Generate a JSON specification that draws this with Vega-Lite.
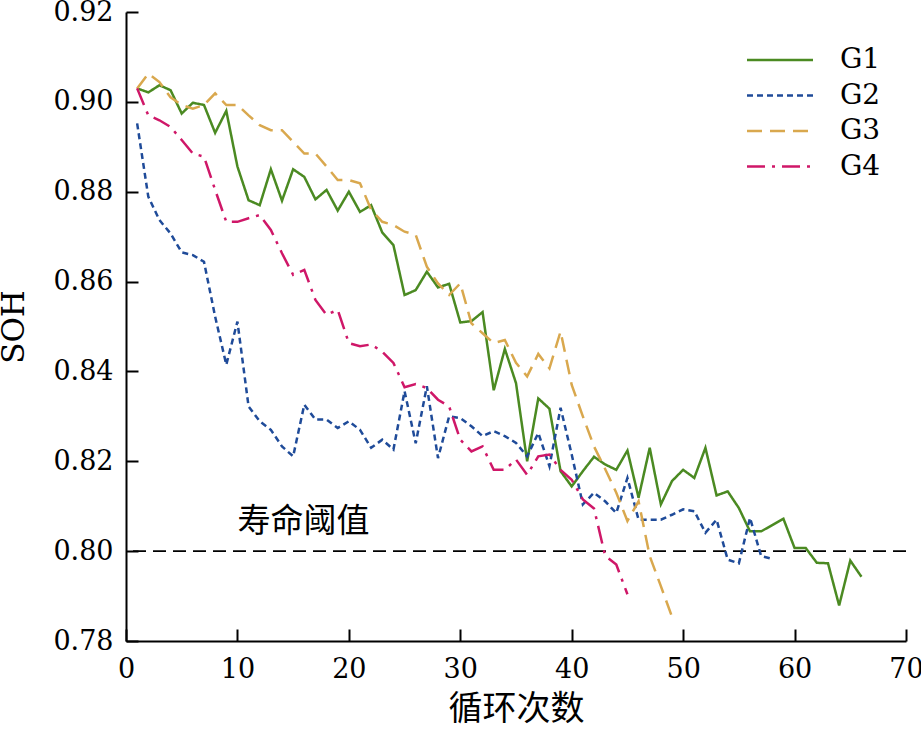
{
  "$schema": "https://vega.github.io/schema/vega-lite/v6.json",
  "width": 780,
  "height": 629,
  "autosize": {"type": "none"},
  "padding": {"left": 126, "top": 12, "right": 15, "bottom": 97},
  "background": "white",
  "config": {
    "view": {"stroke": null},
    "axis": {
      "domainColor": "black",
      "domainWidth": 2,
      "tickColor": "black",
      "tickWidth": 2,
      "tickSize": -12,
      "grid": false,
      "labelFont": "DejaVu Serif",
      "labelFontSize": 27,
      "labelColor": "black",
      "labelOverlap": false,
      "labelBound": false,
      "labelFlush": false,
      "titleColor": "black",
      "titleFontWeight": "normal"
    },
    "axisX": {"labelPadding": 27, "titleFont": "Noto Sans CJK SC", "titleFontSize": 34, "titlePadding": 10},
    "axisY": {"labelPadding": 25, "titleFont": "DejaVu Serif", "titleFontSize": 31, "titlePadding": 22},
    "legend": {
      "orient": "none",
      "legendX": 621,
      "legendY": 30,
      "padding": 0,
      "symbolType": "M-2,0H2",
      "symbolSize": 1089,
      "symbolStrokeWidth": 2.5,
      "symbolOffset": 15,
      "labelOffset": 42,
      "labelFont": "DejaVu Serif",
      "labelFontSize": 28,
      "labelColor": "black",
      "rowPadding": 3.5
    }
  },
  "datasets": {
    "soh": [
      {"group": "G1", "cycle": 1, "soh": 0.903}, {"group": "G1", "cycle": 2, "soh": 0.9021}, {"group": "G1", "cycle": 3, "soh": 0.9037},
      {"group": "G1", "cycle": 4, "soh": 0.9026}, {"group": "G1", "cycle": 5, "soh": 0.8974}, {"group": "G1", "cycle": 6, "soh": 0.8998},
      {"group": "G1", "cycle": 7, "soh": 0.8993}, {"group": "G1", "cycle": 8, "soh": 0.8931}, {"group": "G1", "cycle": 9, "soh": 0.898},
      {"group": "G1", "cycle": 10, "soh": 0.8856}, {"group": "G1", "cycle": 11, "soh": 0.8781}, {"group": "G1", "cycle": 12, "soh": 0.877},
      {"group": "G1", "cycle": 13, "soh": 0.885}, {"group": "G1", "cycle": 14, "soh": 0.878}, {"group": "G1", "cycle": 15, "soh": 0.885},
      {"group": "G1", "cycle": 16, "soh": 0.8833}, {"group": "G1", "cycle": 17, "soh": 0.8783}, {"group": "G1", "cycle": 18, "soh": 0.8804},
      {"group": "G1", "cycle": 19, "soh": 0.8758}, {"group": "G1", "cycle": 20, "soh": 0.88}, {"group": "G1", "cycle": 21, "soh": 0.8755},
      {"group": "G1", "cycle": 22, "soh": 0.877}, {"group": "G1", "cycle": 23, "soh": 0.8709}, {"group": "G1", "cycle": 24, "soh": 0.8681},
      {"group": "G1", "cycle": 25, "soh": 0.857}, {"group": "G1", "cycle": 26, "soh": 0.8581}, {"group": "G1", "cycle": 27, "soh": 0.8622},
      {"group": "G1", "cycle": 28, "soh": 0.8587}, {"group": "G1", "cycle": 29, "soh": 0.8595}, {"group": "G1", "cycle": 30, "soh": 0.8509},
      {"group": "G1", "cycle": 31, "soh": 0.8512}, {"group": "G1", "cycle": 32, "soh": 0.8532}, {"group": "G1", "cycle": 33, "soh": 0.8358},
      {"group": "G1", "cycle": 34, "soh": 0.845}, {"group": "G1", "cycle": 35, "soh": 0.8374}, {"group": "G1", "cycle": 36, "soh": 0.82},
      {"group": "G1", "cycle": 37, "soh": 0.834}, {"group": "G1", "cycle": 38, "soh": 0.8317}, {"group": "G1", "cycle": 39, "soh": 0.8178},
      {"group": "G1", "cycle": 40, "soh": 0.8144}, {"group": "G1", "cycle": 41, "soh": 0.8178}, {"group": "G1", "cycle": 42, "soh": 0.821},
      {"group": "G1", "cycle": 43, "soh": 0.8193}, {"group": "G1", "cycle": 44, "soh": 0.8181}, {"group": "G1", "cycle": 45, "soh": 0.8224},
      {"group": "G1", "cycle": 46, "soh": 0.8119}, {"group": "G1", "cycle": 47, "soh": 0.823}, {"group": "G1", "cycle": 48, "soh": 0.8104},
      {"group": "G1", "cycle": 49, "soh": 0.8156}, {"group": "G1", "cycle": 50, "soh": 0.8181}, {"group": "G1", "cycle": 51, "soh": 0.8163},
      {"group": "G1", "cycle": 52, "soh": 0.823}, {"group": "G1", "cycle": 53, "soh": 0.8124}, {"group": "G1", "cycle": 54, "soh": 0.8133},
      {"group": "G1", "cycle": 55, "soh": 0.8096}, {"group": "G1", "cycle": 56, "soh": 0.8044}, {"group": "G1", "cycle": 57, "soh": 0.8044},
      {"group": "G1", "cycle": 58, "soh": 0.8058}, {"group": "G1", "cycle": 59, "soh": 0.8072}, {"group": "G1", "cycle": 60, "soh": 0.8007},
      {"group": "G1", "cycle": 61, "soh": 0.8007}, {"group": "G1", "cycle": 62, "soh": 0.7974}, {"group": "G1", "cycle": 63, "soh": 0.7973},
      {"group": "G1", "cycle": 64, "soh": 0.7879}, {"group": "G1", "cycle": 65, "soh": 0.7979}, {"group": "G1", "cycle": 66, "soh": 0.7943},

      {"group": "G2", "cycle": 1, "soh": 0.8952}, {"group": "G2", "cycle": 2, "soh": 0.8789}, {"group": "G2", "cycle": 3, "soh": 0.8737},
      {"group": "G2", "cycle": 4, "soh": 0.8707}, {"group": "G2", "cycle": 5, "soh": 0.8665}, {"group": "G2", "cycle": 6, "soh": 0.8659},
      {"group": "G2", "cycle": 7, "soh": 0.8644}, {"group": "G2", "cycle": 8, "soh": 0.8522}, {"group": "G2", "cycle": 9, "soh": 0.8415},
      {"group": "G2", "cycle": 10, "soh": 0.8511}, {"group": "G2", "cycle": 11, "soh": 0.8322}, {"group": "G2", "cycle": 12, "soh": 0.8289},
      {"group": "G2", "cycle": 13, "soh": 0.827}, {"group": "G2", "cycle": 14, "soh": 0.8233}, {"group": "G2", "cycle": 15, "soh": 0.8211},
      {"group": "G2", "cycle": 16, "soh": 0.8326}, {"group": "G2", "cycle": 17, "soh": 0.8293}, {"group": "G2", "cycle": 18, "soh": 0.8293},
      {"group": "G2", "cycle": 19, "soh": 0.8274}, {"group": "G2", "cycle": 20, "soh": 0.8289}, {"group": "G2", "cycle": 21, "soh": 0.827},
      {"group": "G2", "cycle": 22, "soh": 0.823}, {"group": "G2", "cycle": 23, "soh": 0.8248}, {"group": "G2", "cycle": 24, "soh": 0.8226},
      {"group": "G2", "cycle": 25, "soh": 0.8356}, {"group": "G2", "cycle": 26, "soh": 0.824}, {"group": "G2", "cycle": 27, "soh": 0.8367},
      {"group": "G2", "cycle": 28, "soh": 0.8207}, {"group": "G2", "cycle": 29, "soh": 0.83}, {"group": "G2", "cycle": 30, "soh": 0.8296},
      {"group": "G2", "cycle": 31, "soh": 0.8278}, {"group": "G2", "cycle": 32, "soh": 0.8256}, {"group": "G2", "cycle": 33, "soh": 0.8267},
      {"group": "G2", "cycle": 34, "soh": 0.8256}, {"group": "G2", "cycle": 35, "soh": 0.8241}, {"group": "G2", "cycle": 36, "soh": 0.8211},
      {"group": "G2", "cycle": 37, "soh": 0.8263}, {"group": "G2", "cycle": 38, "soh": 0.8189}, {"group": "G2", "cycle": 39, "soh": 0.8319},
      {"group": "G2", "cycle": 40, "soh": 0.8215}, {"group": "G2", "cycle": 41, "soh": 0.8104}, {"group": "G2", "cycle": 42, "soh": 0.813},
      {"group": "G2", "cycle": 43, "soh": 0.8111}, {"group": "G2", "cycle": 44, "soh": 0.8085}, {"group": "G2", "cycle": 45, "soh": 0.8163},
      {"group": "G2", "cycle": 46, "soh": 0.807}, {"group": "G2", "cycle": 47, "soh": 0.807}, {"group": "G2", "cycle": 48, "soh": 0.807},
      {"group": "G2", "cycle": 49, "soh": 0.8081}, {"group": "G2", "cycle": 50, "soh": 0.8093}, {"group": "G2", "cycle": 51, "soh": 0.8089},
      {"group": "G2", "cycle": 52, "soh": 0.8041}, {"group": "G2", "cycle": 53, "soh": 0.807}, {"group": "G2", "cycle": 54, "soh": 0.7981},
      {"group": "G2", "cycle": 55, "soh": 0.7973}, {"group": "G2", "cycle": 56, "soh": 0.8074}, {"group": "G2", "cycle": 57, "soh": 0.7989},
      {"group": "G2", "cycle": 58, "soh": 0.7983},

      {"group": "G3", "cycle": 1, "soh": 0.903}, {"group": "G3", "cycle": 2, "soh": 0.9063}, {"group": "G3", "cycle": 3, "soh": 0.9044},
      {"group": "G3", "cycle": 4, "soh": 0.901}, {"group": "G3", "cycle": 5, "soh": 0.8993}, {"group": "G3", "cycle": 6, "soh": 0.8985},
      {"group": "G3", "cycle": 7, "soh": 0.8993}, {"group": "G3", "cycle": 8, "soh": 0.9019}, {"group": "G3", "cycle": 9, "soh": 0.8993},
      {"group": "G3", "cycle": 10, "soh": 0.8993}, {"group": "G3", "cycle": 11, "soh": 0.897}, {"group": "G3", "cycle": 12, "soh": 0.8948},
      {"group": "G3", "cycle": 13, "soh": 0.8937}, {"group": "G3", "cycle": 14, "soh": 0.8937}, {"group": "G3", "cycle": 15, "soh": 0.8911},
      {"group": "G3", "cycle": 16, "soh": 0.8885}, {"group": "G3", "cycle": 17, "soh": 0.8885}, {"group": "G3", "cycle": 18, "soh": 0.8856},
      {"group": "G3", "cycle": 19, "soh": 0.8826}, {"group": "G3", "cycle": 20, "soh": 0.8826}, {"group": "G3", "cycle": 21, "soh": 0.8819},
      {"group": "G3", "cycle": 22, "soh": 0.876}, {"group": "G3", "cycle": 23, "soh": 0.8733}, {"group": "G3", "cycle": 24, "soh": 0.8726},
      {"group": "G3", "cycle": 25, "soh": 0.8711}, {"group": "G3", "cycle": 26, "soh": 0.8704}, {"group": "G3", "cycle": 27, "soh": 0.8633},
      {"group": "G3", "cycle": 28, "soh": 0.8596}, {"group": "G3", "cycle": 29, "soh": 0.857}, {"group": "G3", "cycle": 30, "soh": 0.8596},
      {"group": "G3", "cycle": 31, "soh": 0.8507}, {"group": "G3", "cycle": 32, "soh": 0.8485}, {"group": "G3", "cycle": 33, "soh": 0.8463},
      {"group": "G3", "cycle": 34, "soh": 0.847}, {"group": "G3", "cycle": 35, "soh": 0.8419}, {"group": "G3", "cycle": 36, "soh": 0.8389},
      {"group": "G3", "cycle": 37, "soh": 0.8439}, {"group": "G3", "cycle": 38, "soh": 0.8407}, {"group": "G3", "cycle": 39, "soh": 0.8489},
      {"group": "G3", "cycle": 40, "soh": 0.837}, {"group": "G3", "cycle": 41, "soh": 0.83}, {"group": "G3", "cycle": 42, "soh": 0.8233},
      {"group": "G3", "cycle": 43, "soh": 0.8183}, {"group": "G3", "cycle": 44, "soh": 0.813}, {"group": "G3", "cycle": 45, "soh": 0.8067},
      {"group": "G3", "cycle": 46, "soh": 0.8111}, {"group": "G3", "cycle": 47, "soh": 0.7989}, {"group": "G3", "cycle": 48, "soh": 0.7922},
      {"group": "G3", "cycle": 49, "soh": 0.7854},

      {"group": "G4", "cycle": 1, "soh": 0.903}, {"group": "G4", "cycle": 2, "soh": 0.897}, {"group": "G4", "cycle": 3, "soh": 0.8959},
      {"group": "G4", "cycle": 4, "soh": 0.8944}, {"group": "G4", "cycle": 5, "soh": 0.8915}, {"group": "G4", "cycle": 6, "soh": 0.8885},
      {"group": "G4", "cycle": 7, "soh": 0.8878}, {"group": "G4", "cycle": 8, "soh": 0.8804}, {"group": "G4", "cycle": 9, "soh": 0.8733},
      {"group": "G4", "cycle": 10, "soh": 0.8733}, {"group": "G4", "cycle": 11, "soh": 0.8741}, {"group": "G4", "cycle": 12, "soh": 0.8748},
      {"group": "G4", "cycle": 13, "soh": 0.8715}, {"group": "G4", "cycle": 14, "soh": 0.8663}, {"group": "G4", "cycle": 15, "soh": 0.8615},
      {"group": "G4", "cycle": 16, "soh": 0.8626}, {"group": "G4", "cycle": 17, "soh": 0.8559}, {"group": "G4", "cycle": 18, "soh": 0.8526},
      {"group": "G4", "cycle": 19, "soh": 0.8537}, {"group": "G4", "cycle": 20, "soh": 0.8463}, {"group": "G4", "cycle": 21, "soh": 0.8456},
      {"group": "G4", "cycle": 22, "soh": 0.846}, {"group": "G4", "cycle": 23, "soh": 0.8444}, {"group": "G4", "cycle": 24, "soh": 0.8419},
      {"group": "G4", "cycle": 25, "soh": 0.8365}, {"group": "G4", "cycle": 26, "soh": 0.8372}, {"group": "G4", "cycle": 27, "soh": 0.8363},
      {"group": "G4", "cycle": 28, "soh": 0.8337}, {"group": "G4", "cycle": 29, "soh": 0.8322}, {"group": "G4", "cycle": 30, "soh": 0.8248},
      {"group": "G4", "cycle": 31, "soh": 0.8222}, {"group": "G4", "cycle": 32, "soh": 0.8233}, {"group": "G4", "cycle": 33, "soh": 0.8181},
      {"group": "G4", "cycle": 34, "soh": 0.8181}, {"group": "G4", "cycle": 35, "soh": 0.8204}, {"group": "G4", "cycle": 36, "soh": 0.817},
      {"group": "G4", "cycle": 37, "soh": 0.8211}, {"group": "G4", "cycle": 38, "soh": 0.8215}, {"group": "G4", "cycle": 39, "soh": 0.8181},
      {"group": "G4", "cycle": 40, "soh": 0.8159}, {"group": "G4", "cycle": 41, "soh": 0.8115}, {"group": "G4", "cycle": 42, "soh": 0.8095},
      {"group": "G4", "cycle": 43, "soh": 0.799}, {"group": "G4", "cycle": 44, "soh": 0.797}, {"group": "G4", "cycle": 45, "soh": 0.7904}
    ],
    "threshold": [{"soh": 0.8, "note": "寿命阈值"}]
  },
  "encoding": {
    "y": {
      "field": "soh",
      "type": "quantitative",
      "scale": {"domain": [0.78, 0.92], "nice": false, "zero": false},
      "axis": {"title": "SOH", "values": [0.78, 0.8, 0.82, 0.84, 0.86, 0.88, 0.9, 0.92], "format": ".2f"}
    }
  },
  "layer": [
    {
      "data": {"name": "threshold"},
      "mark": {"type": "rule", "color": "black", "strokeWidth": 1.6, "strokeDash": [13, 7]},
      "encoding": {}
    },
    {
      "data": {"name": "soh"},
      "mark": {"type": "line", "strokeWidth": 2.5, "clip": true},
      "encoding": {
        "x": {
          "field": "cycle",
          "type": "quantitative",
          "scale": {"domain": [0, 70], "nice": false},
          "axis": {"title": "循环次数", "values": [0, 10, 20, 30, 40, 50, 60, 70], "format": "d"}
        },
        "color": {
          "field": "group",
          "type": "nominal",
          "scale": {"domain": ["G1", "G2", "G3", "G4"], "range": ["#4b8a22", "#1f4b99", "#d9a84e", "#cf1768"]},
          "legend": {"title": null}
        },
        "strokeDash": {
          "field": "group",
          "type": "nominal",
          "scale": {"domain": ["G1", "G2", "G3", "G4"], "range": [[1, 0], [6, 4], [15, 8], [18, 7, 3, 7]]},
          "legend": {"title": null}
        }
      }
    },
    {
      "data": {"name": "threshold"},
      "mark": {"type": "text", "align": "left", "baseline": "middle", "font": "Noto Sans CJK SC", "fontSize": 33, "dy": -29, "color": "black"},
      "encoding": {
        "x": {"datum": 10, "type": "quantitative", "axis": {"title": "循环次数", "values": [0, 10, 20, 30, 40, 50, 60, 70], "format": "d"}},
        "text": {"field": "note"}
      }
    }
  ]
}
